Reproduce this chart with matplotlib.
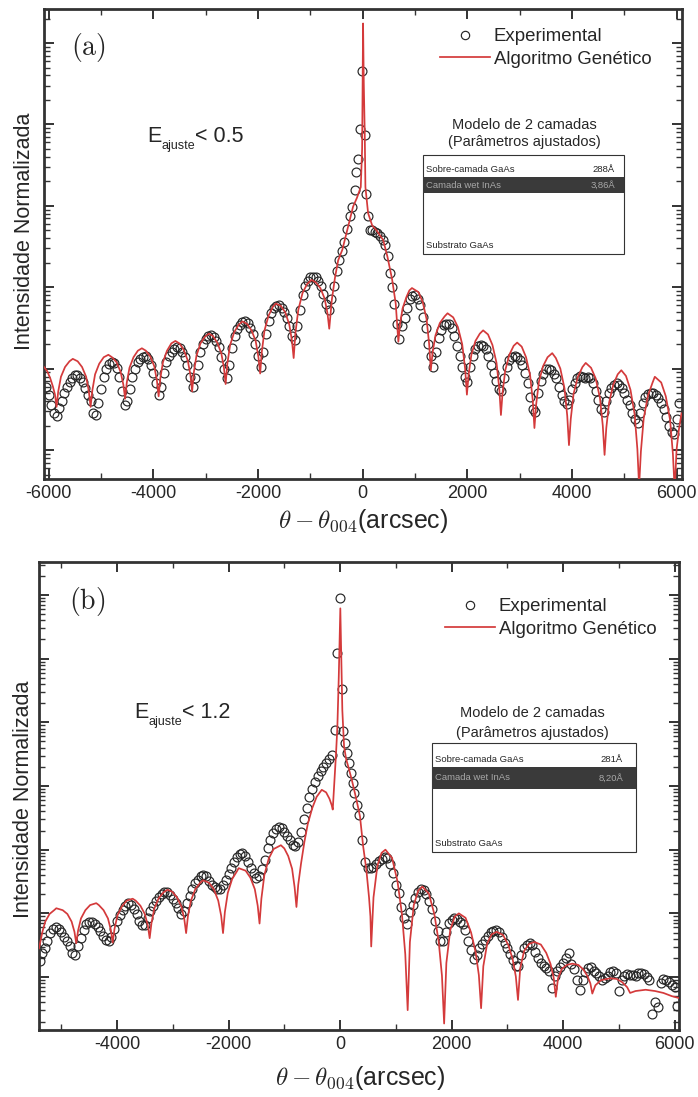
import numpy as np
import matplotlib
matplotlib.use("Agg")
import matplotlib.pyplot as plt
from matplotlib.lines import Line2D
from matplotlib.patches import Rectangle
from matplotlib.ticker import LogLocator, NullFormatter, FixedLocator

plt.rcParams['font.family'] = ['Liberation Sans', 'DejaVu Sans']
plt.rcParams['mathtext.fontset'] = 'cm'
plt.rcParams['axes.unicode_minus'] = False

# ---------------------------------------------------------------------------
# Panel (a): rocking curve, E_ajuste < 0.5  (angles in arcsec, log10 of intensity)
# ---------------------------------------------------------------------------
exp_a_angle = [
    -6050, -6000, -5950, -5900, -5850, -5800, -5750, -5700, -5650, -5600,
    -5550, -5500, -5450, -5400, -5350, -5300, -5250, -5200, -5150, -5100,
    -5050, -5000, -4950, -4900, -4850, -4800, -4750, -4700, -4650, -4600,
    -4550, -4500, -4450, -4400, -4350, -4300, -4250, -4200, -4150, -4100,
    -4050, -4000, -3950, -3900, -3850, -3800, -3750, -3700, -3650, -3600,
    -3550, -3500, -3450, -3400, -3350, -3300, -3250, -3200, -3150, -3100,
    -3050, -3000, -2950, -2900, -2850, -2800, -2750, -2700, -2650, -2600,
    -2550, -2500, -2450, -2400, -2350, -2300, -2250, -2200, -2150, -2100,
    -2050, -2000, -1950, -1900, -1850, -1800, -1750, -1700, -1650, -1600,
    -1550, -1500, -1450, -1400, -1350, -1300, -1250, -1200, -1150, -1100,
    -1050, -1000, -950, -900, -850, -800, -750, -700, -650, -600,
    -550, -500, -450, -400, -350, -300, -250, -204, -153, -121,
    -89, -57, -13, 38, 57, 102, 134, 180, 230, 280,
    330, 380, 430, 480, 520, 560, 600, 650, 700, 750,
    800, 850, 900, 950, 1000, 1050, 1100, 1150, 1200, 1250,
    1300, 1350, 1400, 1450, 1500, 1550, 1600, 1650, 1700, 1750,
    1800, 1850, 1900, 1950, 2000, 2050, 2100, 2150, 2200, 2250,
    2300, 2350, 2400, 2450, 2500, 2550, 2600, 2650, 2700, 2750,
    2800, 2850, 2900, 2950, 3000, 3050, 3100, 3150, 3200, 3250,
    3300, 3350, 3400, 3450, 3500, 3550, 3600, 3650, 3700, 3750,
    3800, 3850, 3900, 3950, 4000, 4050, 4100, 4150, 4200, 4250,
    4300, 4350, 4400, 4450, 4500, 4550, 4600, 4650, 4700, 4750,
    4800, 4850, 4900, 4950, 5000, 5050, 5100, 5150, 5200, 5250,
    5300, 5350, 5400, 5450, 5500, 5550, 5600, 5650, 5700, 5750,
    5800, 5850, 5900, 5950, 6000, 6050,
]
exp_a_log = [
    -4.22, -4.33, -4.45, -4.55, -4.58, -4.48, -4.40, -4.30, -4.22, -4.17,
    -4.12, -4.08, -4.08, -4.11, -4.16, -4.24, -4.32, -4.40, -4.55, -4.57,
    -4.42, -4.25, -4.10, -4.00, -3.94, -3.92, -3.93, -3.99, -4.10, -4.28,
    -4.45, -4.40, -4.25, -4.10, -4.00, -3.92, -3.88, -3.86, -3.85, -3.88,
    -3.95, -4.05, -4.18, -4.32, -4.22, -4.05, -3.92, -3.84, -3.79, -3.76,
    -3.74, -3.75, -3.79, -3.86, -3.96, -4.10, -4.22, -4.12, -3.95, -3.80,
    -3.70, -3.63, -3.60, -3.59, -3.61, -3.66, -3.74, -3.86, -4.00, -4.11,
    -3.95, -3.75, -3.60, -3.51, -3.46, -3.43, -3.42, -3.44, -3.50, -3.58,
    -3.70, -3.85, -3.98, -3.80, -3.58, -3.42, -3.32, -3.26, -3.23, -3.22,
    -3.25, -3.30, -3.38, -3.48, -3.60, -3.65, -3.48, -3.28, -3.10, -2.98,
    -2.92, -2.88, -2.87, -2.88, -2.92, -2.98, -3.08, -3.20, -3.28, -3.15,
    -2.98, -2.80, -2.66, -2.56, -2.44, -2.28, -2.13, -2.01, -1.81, -1.59,
    -1.42, -1.06, -0.34, -1.13, -1.85, -2.13, -2.30, -2.30, -2.32, -2.34,
    -2.37, -2.42, -2.48, -2.62, -2.83, -3.00, -3.20, -3.45, -3.63, -3.48,
    -3.38, -3.25, -3.15, -3.11, -3.10, -3.14, -3.22, -3.36, -3.50, -3.70,
    -3.85, -3.98, -3.80, -3.62, -3.52, -3.47, -3.45, -3.45, -3.50, -3.60,
    -3.72, -3.85, -3.98, -4.10, -4.16, -3.98, -3.85, -3.76, -3.72, -3.71,
    -3.72, -3.76, -3.85, -3.95, -4.05, -4.15, -4.25, -4.28, -4.12, -3.98,
    -3.90, -3.86, -3.85, -3.86, -3.90, -3.96, -4.05, -4.18, -4.35, -4.50,
    -4.53, -4.30, -4.15, -4.06, -4.01, -4.00, -4.02, -4.06, -4.12, -4.22,
    -4.32, -4.40, -4.43, -4.38, -4.25, -4.18, -4.12, -4.09, -4.10, -4.12,
    -4.10, -4.12, -4.18, -4.28, -4.38, -4.50, -4.53, -4.40, -4.30, -4.24,
    -4.20, -4.18, -4.20, -4.24, -4.30, -4.38, -4.45, -4.55, -4.62, -4.67,
    -4.55, -4.42, -4.35, -4.31, -4.30, -4.30, -4.32, -4.36, -4.42, -4.50,
    -4.60, -4.70, -4.78, -4.80, -4.62, -4.42,
]
fit_a_angle = [
    -6090, -6030, -5970, -5920, -5880, -5850,
    -5818, -5766, -5688, -5603, -5540, -5447, -5363, -5285, -5233, -5200,
    -5167, -5114, -5035, -4949, -4860, -4791, -4705, -4626, -4573, -4540,
    -4508, -4457, -4380, -4297, -4220, -4143, -4060, -3983, -3932, -3900,
    -3868, -3817, -3740, -3657, -3580, -3503, -3420, -3343, -3292, -3260,
    -3228, -3177, -3100, -3017, -2940, -2863, -2780, -2703, -2652, -2620,
    -2587, -2534, -2455, -2369, -2300, -2211, -2125, -2046, -1993, -1960,
    -1928, -1877, -1800, -1717, -1660, -1563, -1480, -1403, -1352, -1320,
    -1286, -1232, -1150, -1062, -980, -898, -810, -728, -674, -640,
    -590, -530, -470, -390, -312, -185, -110, -38, -12, -4, 6,
    20, 38, 51, 102, 180, 262, 390, 470, 560, 630, 680,
    711, 761, 835, 890, 940, 1064, 1145, 1219, 1269, 1300,
    1335, 1390, 1473, 1562, 1620, 1728, 1818, 1900, 1956, 1990,
    2023, 2075, 2153, 2237, 2300, 2393, 2478, 2556, 2608, 2640,
    2672, 2723, 2800, 2883, 2950, 3037, 3120, 3197, 3248, 3280,
    3313, 3366, 3445, 3531, 3620, 3689, 3775, 3854, 3907, 3940,
    3974, 4028, 4110, 4198, 4260, 4362, 4450, 4532, 4586, 4620,
    4653, 4706, 4785, 4871, 4940, 5029, 5115, 5194, 5247, 5280,
    5314, 5368, 5450, 5538, 5580, 5702, 5790, 5872, 5926, 5960,
    5995, 6040, 6090,
]
fit_a_log = [
    -3.98, -4.03, -4.12, -4.22, -4.32, -4.47,
    -4.28, -4.10, -3.98, -3.91, -3.88, -3.91, -3.98, -4.10, -4.28, -4.47,
    -4.27, -4.07, -3.94, -3.86, -3.83, -3.86, -3.92, -4.04, -4.20, -4.37,
    -4.17, -3.99, -3.86, -3.78, -3.75, -3.78, -3.85, -3.97, -4.15, -4.34,
    -4.12, -3.92, -3.78, -3.69, -3.66, -3.69, -3.77, -3.90, -4.08, -4.28,
    -4.05, -3.84, -3.69, -3.61, -3.57, -3.60, -3.68, -3.81, -3.99, -4.19,
    -3.94, -3.71, -3.55, -3.46, -3.42, -3.45, -3.53, -3.66, -3.86, -4.06,
    -3.79, -3.53, -3.35, -3.24, -3.20, -3.23, -3.31, -3.46, -3.66, -3.87,
    -3.56, -3.28, -3.07, -2.96, -2.91, -2.94, -3.01, -3.14, -3.32, -3.51,
    -3.15, -2.88, -2.67, -2.54, -2.34, -2.01, -1.90, -1.77, -1.30, -0.60, 0.24,
    -0.50, -1.11, -1.77, -2.09, -2.24, -2.30, -2.42, -2.62, -2.90, -3.20, -3.67,
    -3.46, -3.26, -3.12, -3.04, -3.01, -3.06, -3.18, -3.39, -3.70, -4.02,
    -3.80, -3.59, -3.44, -3.36, -3.32, -3.37, -3.49, -3.70, -4.00, -4.32,
    -4.07, -3.83, -3.66, -3.57, -3.53, -3.58, -3.71, -3.93, -4.24, -4.57,
    -4.29, -4.02, -3.83, -3.72, -3.68, -3.73, -3.86, -4.08, -4.39, -4.73,
    -4.44, -4.16, -3.97, -3.86, -3.81, -3.87, -4.00, -4.24, -4.58, -4.94,
    -4.62, -4.31, -4.10, -3.98, -3.93, -3.99, -4.12, -4.36, -4.70, -5.06,
    -4.73, -4.42, -4.20, -4.07, -4.02, -4.09, -4.26, -4.56, -4.99, -5.45,
    -5.02, -4.61, -4.33, -4.17, -4.10, -4.17, -4.34, -4.63, -5.05, -5.50,
    -5.00, -4.75, -4.55,
]
layers_a = [('Sobre-camada GaAs', '288Å'), ('Camada wet InAs', '3,86Å'), ('Substrato GaAs', '')]

# ---------------------------------------------------------------------------
# Panel (b): rocking curve, E_ajuste < 1.2
# ---------------------------------------------------------------------------
exp_b_angle = [
    -5390, -5350, -5300, -5250, -5200, -5150, -5100, -5050, -5000, -4950,
    -4900, -4850, -4800, -4750, -4700, -4650, -4600, -4550, -4500, -4450,
    -4400, -4350, -4300, -4250, -4200, -4150, -4100, -4050, -4000, -3950,
    -3900, -3850, -3800, -3750, -3700, -3650, -3600, -3550, -3500, -3450,
    -3400, -3350, -3300, -3250, -3200, -3150, -3100, -3050, -3000, -2950,
    -2900, -2850, -2800, -2750, -2700, -2650, -2600, -2550, -2500, -2450,
    -2400, -2350, -2300, -2250, -2200, -2150, -2100, -2050, -2000, -1950,
    -1900, -1850, -1800, -1750, -1700, -1650, -1600, -1550, -1500, -1450,
    -1400, -1350, -1300, -1250, -1200, -1150, -1100, -1050, -1000, -950,
    -900, -850, -800, -750, -700, -650, -600, -550, -500, -450,
    -400, -350, -300, -250, -200, -150, -90, -48, 0, 41,
    59, 90, 131, 161, 192, 228, 256, 299, 341, 400,
    450, 500, 550, 600, 650, 700, 750, 800, 850, 900,
    950, 1000, 1050, 1100, 1150, 1200, 1250, 1300, 1350, 1400,
    1450, 1500, 1550, 1600, 1650, 1700, 1750, 1800, 1850, 1900,
    1950, 2000, 2050, 2100, 2150, 2200, 2250, 2300, 2350, 2400,
    2450, 2500, 2550, 2600, 2650, 2700, 2750, 2800, 2850, 2900,
    2950, 3000, 3050, 3100, 3150, 3200, 3250, 3300, 3350, 3400,
    3450, 3500, 3550, 3600, 3650, 3700, 3750, 3800, 3850, 3900,
    3950, 4000, 4050, 4100, 4150, 4200, 4250, 4300, 4350, 4400,
    4450, 4500, 4550, 4600, 4650, 4700, 4750, 4800, 4850, 4900,
    4950, 5000, 5050, 5100, 5150, 5200, 5250, 5300, 5350, 5400,
    5450, 5500, 5550, 5600, 5650, 5700, 5750, 5800, 5850, 5900,
    5950, 6000, 6040,
]
exp_b_log = [
    -5.75, -5.63, -5.55, -5.43, -5.31, -5.24, -5.21, -5.24, -5.30, -5.37,
    -5.43, -5.51, -5.62, -5.65, -5.52, -5.39, -5.26, -5.16, -5.13, -5.14,
    -5.17, -5.21, -5.28, -5.35, -5.42, -5.43, -5.37, -5.24, -5.12, -5.03,
    -4.94, -4.88, -4.84, -4.87, -4.93, -5.01, -5.12, -5.18, -5.18, -5.08,
    -4.97, -4.89, -4.81, -4.74, -4.69, -4.66, -4.66, -4.71, -4.78, -4.84,
    -4.92, -5.01, -4.97, -4.84, -4.73, -4.62, -4.53, -4.47, -4.42, -4.40,
    -4.42, -4.49, -4.56, -4.59, -4.62, -4.61, -4.56, -4.48, -4.38, -4.28,
    -4.19, -4.12, -4.07, -4.06, -4.10, -4.19, -4.28, -4.37, -4.45, -4.41,
    -4.31, -4.16, -3.98, -3.85, -3.74, -3.68, -3.64, -3.66, -3.72, -3.79,
    -3.85, -3.92, -3.94, -3.88, -3.72, -3.52, -3.34, -3.17, -3.05, -2.94,
    -2.84, -2.76, -2.70, -2.64, -2.58, -2.51, -2.12, -0.91, -0.05, -1.47,
    -2.13, -2.33, -2.48, -2.64, -2.80, -2.95, -3.11, -3.30, -3.46, -3.85,
    -4.20, -4.29, -4.29, -4.27, -4.23, -4.18, -4.14, -4.11, -4.13, -4.22,
    -4.36, -4.55, -4.68, -4.90, -5.08, -5.16, -4.98, -4.87, -4.76, -4.66,
    -4.61, -4.63, -4.70, -4.80, -4.93, -5.12, -5.28, -5.43, -5.44, -5.30,
    -5.15, -5.10, -5.07, -5.09, -5.13, -5.17, -5.26, -5.43, -5.57, -5.71,
    -5.66, -5.55, -5.48, -5.42, -5.36, -5.30, -5.27, -5.26, -5.30, -5.37,
    -5.46, -5.55, -5.64, -5.74, -5.82, -5.83, -5.66, -5.55, -5.49, -5.47,
    -5.50, -5.60, -5.70, -5.78, -5.83, -5.86, -5.90, -6.18, -5.98, -5.90,
    -5.85, -5.78, -5.70, -5.63, -5.80, -5.88, -6.05, -6.20, -6.04, -5.92,
    -5.86, -5.84, -5.90, -5.93, -5.98, -6.04, -6.02, -5.98, -5.92, -5.90,
    -5.93, -6.22, -6.04, -5.98, -5.96, -5.97, -5.97, -5.99, -5.94, -5.93,
    -5.96, -6.00, -6.05, -6.58, -6.40, -6.47, -6.10, -6.03, -6.05, -6.08,
    -6.12, -6.15, -6.46,
]
fit_b_angle = [
    -5400,
    -5339, -5288, -5211, -5128, -5090, -4975, -4891, -4815, -4764, -4732,
    -4699, -4647, -4568, -4483, -4373, -4327, -4242, -4163, -4111, -4078,
    -4045, -3992, -3912, -3826, -3720, -3667, -3581, -3502, -3448, -3415,
    -3382, -3330, -3252, -3166, -3096, -3010, -2925, -2846, -2794, -2761,
    -2728, -2675, -2596, -2509, -2458, -2351, -2265, -2185, -2132, -2099,
    -2066, -2014, -1935, -1850, -1819, -1693, -1608, -1529, -1477, -1444,
    -1411, -1358, -1279, -1192, -1061, -1000, -930, -860, -815, -782,
    -750, -700, -640, -580, -500, -420, -328, -250, -190, -150, -131,
    -110, -90, -72, -48, -23, 5, 23, 41, 72, 110,
    149, 210, 269, 320, 358, 415, 470, 520, 545, 559,
    600, 670, 745, 814, 933, 1031, 1110, 1170, 1213,
    1253, 1323, 1403, 1476, 1593, 1691, 1769, 1828, 1867,
    1907, 1977, 2057, 2131, 2251, 2350, 2430, 2490, 2530,
    2570, 2640, 2720, 2809, 2924, 3020, 3096, 3153, 3192,
    3232, 3302, 3390, 3487, 3602, 3698, 3774, 3832, 3870,
    3910, 3980, 4070, 4166, 4274, 4363, 4435, 4490, 4525,
    4580, 4680, 4844, 4960, 5060, 5150, 5203,
    5300, 5482, 5650, 5800, 5950, 6080,
]
fit_b_log = [
    -5.55,
    -5.29, -5.13, -5.01, -4.95, -4.92, -4.95, -5.01, -5.13, -5.29, -5.47,
    -5.27, -5.08, -4.95, -4.87, -4.84, -4.87, -4.95, -5.08, -5.26, -5.46,
    -5.24, -5.03, -4.89, -4.80, -4.77, -4.80, -4.88, -5.01, -5.19, -5.39,
    -5.15, -4.92, -4.76, -4.67, -4.63, -4.66, -4.75, -4.89, -5.09, -5.31,
    -5.04, -4.80, -4.62, -4.52, -4.48, -4.52, -4.62, -4.80, -5.04, -5.31,
    -4.98, -4.68, -4.46, -4.34, -4.29, -4.33, -4.44, -4.62, -4.88, -5.16,
    -4.77, -4.40, -4.14, -3.99, -3.93, -3.98, -4.10, -4.30, -4.59, -4.90,
    -4.55, -4.22, -3.88, -3.60, -3.35, -3.17, -3.06, -3.10, -3.20, -3.30, -3.37,
    -3.05, -2.75, -2.49, -2.07, -1.29, -0.21, -1.02, -1.81, -2.38, -2.58,
    -2.70, -2.90, -3.12, -3.32, -3.48, -3.95, -4.30, -4.75, -5.05, -5.52,
    -4.75, -4.25, -4.05, -4.00, -4.13, -4.50, -5.01, -5.64, -6.52,
    -5.45, -4.87, -4.64, -4.58, -4.69, -5.01, -5.44, -5.98, -6.73,
    -5.78, -5.26, -5.05, -5.00, -5.07, -5.30, -5.60, -5.97, -6.49,
    -5.83, -5.47, -5.33, -5.29, -5.34, -5.50, -5.72, -5.99, -6.36,
    -5.86, -5.59, -5.48, -5.45, -5.49, -5.62, -5.79, -6.01, -6.31,
    -6.02, -5.87, -5.81, -5.79, -5.81, -5.88, -5.98, -6.10, -6.26,
    -6.13, -6.05, -6.02, -6.03, -6.08, -6.16, -6.25,
    -6.22, -6.20, -6.22, -6.25, -6.30, -6.33,
]
layers_b = [('Sobre-camada GaAs', '281Å'), ('Camada wet InAs', '8,20Å'), ('Substrato GaAs', '')]

xticks_a = [-6000, -4000, -2000, 0, 2000, 4000, 6000]
xminor_a = [-5000, -3000, -1000, 1000, 3000, 5000]
xticks_b = [-4000, -2000, 0, 2000, 4000, 6000]
xminor_b = [-5000, -3000, -1000, 1000, 3000, 5000]

# ---------------------------------------------------------------------------
FIG_W, FIG_H = 698, 1097
fig = plt.figure(figsize=(FIG_W / 100, FIG_H / 100), dpi=100)
fig.patch.set_facecolor('white')

RED = '#d43a3b'
INK = '#262626'
FRAME = '#333333'


def make_axes(box):
    """Create axes from a pixel box (left, top, right, bottom)."""
    x0, y0, x1, y1 = box
    ax = fig.add_axes([x0 / FIG_W, 1 - y1 / FIG_H, (x1 - x0) / FIG_W, (y1 - y0) / FIG_H])

    def to_ax(px, py):
        return (px - x0) / (x1 - x0), 1 - (py - y0) / (y1 - y0)
    return ax, to_ax


def draw_panel(d):
    ax, to_ax = make_axes(d['box'])
    ax.plot(d['exp_x'], 10.0 ** np.asarray(d['exp_log']), ls='none', marker='o',
            ms=6.4, mfc='none', mec=INK, mew=0.85, zorder=2)
    ax.plot(d['fit_x'], 10.0 ** np.asarray(d['fit_log']), color=RED, lw=1.25,
            solid_joinstyle='round', zorder=3)

    ax.set_yscale('log')
    ax.set_xlim(*d['xlim'])
    ax.set_ylim(10.0 ** d['ylog'][0], 10.0 ** d['ylog'][1])
    ax.xaxis.set_major_locator(FixedLocator(d['xticks']))
    ax.xaxis.set_minor_locator(FixedLocator(d['xminor']))
    ax.set_xticklabels([str(t) for t in d['xticks']])
    ax.yaxis.set_major_locator(LogLocator(base=10, numticks=40))
    ax.yaxis.set_minor_locator(LogLocator(base=10, subs=np.arange(2, 10), numticks=40))
    ax.yaxis.set_major_formatter(NullFormatter())
    ax.yaxis.set_minor_formatter(NullFormatter())
    ax.tick_params(which='both', direction='in', top=True, right=True, color=FRAME,
                   labelcolor=INK)
    ax.tick_params(which='major', length=7.5, width=1.4, labelsize=13, pad=4)
    ax.tick_params(which='minor', length=4, width=1.0)
    for s in ax.spines.values():
        s.set_linewidth(2.0)
        s.set_color(FRAME)

    ax.set_ylabel('Intensidade Normalizada', fontsize=15.5, color=INK)
    ax.yaxis.set_label_coords(*to_ax(*d['ylabel_px']))
    ax.set_xlabel(r'$\theta - \theta_{004}$(arcsec)', fontsize=18, color=INK)
    ax.xaxis.set_label_coords(*to_ax(*d['xlabel_px']))

    # panel tag
    ax.text(*to_ax(*d['tag_px']), d['tag'], transform=ax.transAxes, fontsize=20,
            ha='center', va='center', color=INK)

    # legend
    h_exp = Line2D([], [], ls='none', marker='o', ms=6.0, mfc='none', mec=INK, mew=0.85)
    h_fit = Line2D([], [], color=RED, lw=1.25)
    ax.legend([h_exp, h_fit], ['Experimental', 'Algoritmo Genético'], loc='upper left',
              bbox_to_anchor=to_ax(*d['legend_px']), frameon=False, fontsize=13.4,
              handlelength=2.7, handletextpad=0.2, labelspacing=0.3, borderpad=0,
              borderaxespad=0, labelcolor=INK)

    # fit-quality label
    e = ax.text(*to_ax(*d['err_px']), 'E', transform=ax.transAxes, fontsize=15.5,
                ha='left', va='center', color=INK)
    sub = ax.annotate('ajuste', xy=(1.0, 0.08), xycoords=e, fontsize=9, ha='left',
                      va='center', color=INK)
    ax.annotate(d['err_value'], xy=(1.0, 0.5), xycoords=(sub, e), fontsize=15.5,
                ha='left', va='center', color=INK)

    # layer model box
    for txt, pos in zip(['Modelo de 2 camadas', '(Parâmetros ajustados)'], d['model_px']):
        ax.text(*to_ax(*pos), txt, transform=ax.transAxes, fontsize=10.5,
                ha='center', va='center', color=INK)
    bx0, by0, bx1, by1 = d['table_px']
    (tx0, ty1), (tx1, ty0) = to_ax(bx0, by0), to_ax(bx1, by1)
    ax.add_patch(Rectangle((tx0, ty0), tx1 - tx0, ty1 - ty0, transform=ax.transAxes,
                           fc='white', ec=FRAME, lw=0.8, zorder=4))
    dy0, dy1 = d['dark_px']
    ry1, ry0 = to_ax(bx0, dy0)[1], to_ax(bx0, dy1)[1]
    ax.add_patch(Rectangle((tx0, ry0), tx1 - tx0, ry1 - ry0, transform=ax.transAxes,
                           fc='#3a3a3a', ec='none', zorder=5))
    colors = [INK, '#a8a8a8', INK]
    for (name, value), row_y, col in zip(d['layers'], d['rows_px'], colors):
        ax.text(*to_ax(bx0 + 3, row_y), name, transform=ax.transAxes, fontsize=6.8,
                ha='left', va='center', color=col, zorder=6)
        if value:
            ax.text(*to_ax(d['value_right_px'], row_y), value, transform=ax.transAxes,
                    fontsize=6.8, ha='right', va='center', color=col, zorder=6)
    return ax


panel_a = dict(
    box=(44, 9, 681.5, 479),
    exp_x=exp_a_angle, exp_log=exp_a_log, fit_x=fit_a_angle, fit_log=fit_a_log,
    xlim=(-6090, 6090), ylog=(-5.356, 0.418),
    xticks=xticks_a, xminor=xminor_a,
    ylabel_px=(35, 231), xlabel_px=(363, 507),
    tag=r'$\mathrm{(a)}$', tag_px=(88, 48),
    legend_px=(440, 28),
    err_px=(147, 137), err_value='< 0.5',
    model_px=[(524, 125), (524, 142)],
    table_px=(423, 155, 624, 254), dark_px=(177, 193),
    rows_px=[170, 185, 246], value_right_px=615,
    layers=layers_a,
)
panel_b = dict(
    box=(39, 562, 679, 1030),
    exp_x=exp_b_angle, exp_log=exp_b_log, fit_x=fit_b_angle, fit_log=fit_b_log,
    xlim=(-5400, 6080), ylog=(-6.832, 0.518),
    xticks=xticks_b, xminor=xminor_b,
    ylabel_px=(34, 799), xlabel_px=(360, 1064),
    tag=r'$\mathrm{(b)}$', tag_px=(87, 601),
    legend_px=(445, 598),
    err_px=(134, 713), err_value='< 1.2',
    model_px=[(532, 713), (532, 733)],
    table_px=(432, 743, 636, 852), dark_px=(767, 789),
    rows_px=[759, 778, 843], value_right_px=623,
    layers=layers_b,
)

draw_panel(panel_a)
draw_panel(panel_b)

fig.savefig('out.png', dpi=100, facecolor='white')
